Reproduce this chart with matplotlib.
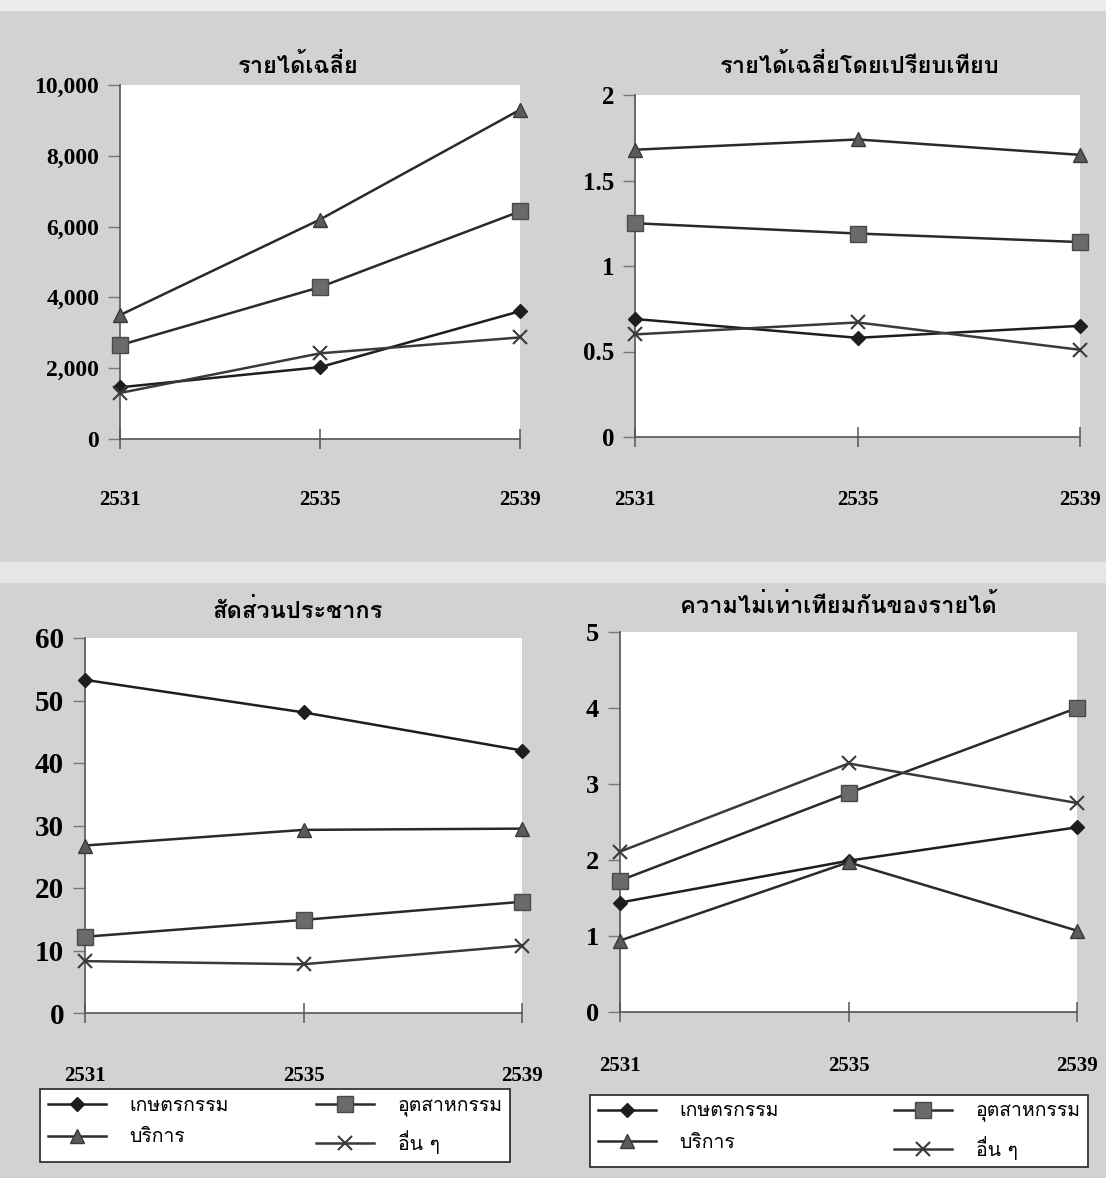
import matplotlib
matplotlib.use('Agg')
import matplotlib.pyplot as plt
from matplotlib import font_manager, ft2font
from matplotlib.lines import Line2D
from matplotlib.patches import Rectangle
import numpy as np

years = [2531, 2535, 2539]
series_names = ['เกษตรกรรม', 'อุตสาหกรรม', 'บริการ', 'อื่น ๆ']

# รายได้เฉลี่ย
income_agri = [1460, 2030, 3610]
income_ind = [2650, 4290, 6430]
income_serv = [3500, 6200, 9300]
income_other = [1300, 2420, 2870]

# รายได้เฉลี่ยโดยเปรียบเทียบ
rel_agri = [0.69, 0.58, 0.65]
rel_ind = [1.25, 1.19, 1.14]
rel_serv = [1.68, 1.74, 1.65]
rel_other = [0.60, 0.67, 0.51]

# สัดส่วนประชากร
pop_agri = [53.3, 48.1, 42.0]
pop_ind = [12.2, 14.9, 17.8]
pop_serv = [26.8, 29.3, 29.5]
pop_other = [8.3, 7.8, 10.8]

# ความไม่เท่าเทียมกันของรายได้
ineq_agri = [1.44, 1.99, 2.43]
ineq_ind = [1.73, 2.88, 4.00]
ineq_serv = [0.94, 1.97, 1.07]
ineq_other = [2.11, 3.27, 2.75]

titles = ['รายได้เฉลี่ย', 'รายได้เฉลี่ยโดยเปรียบเทียบ', 'สัดส่วนประชากร',
          'ความไม่เท่าเทียมกันของรายได้']


def find_thai_font():
    for f in font_manager.fontManager.ttflist:
        try:
            cmap = ft2font.FT2Font(f.fname).get_charmap()
        except Exception:
            continue
        if 0x0E01 in cmap and 0x0E44 in cmap:
            return f.name
    return 'DejaVu Sans'


thai = find_thai_font()
thai_family = [thai, 'DejaVu Sans']
num_font = 'Liberation Serif'

W, H = 1106, 1178
fig = plt.figure(figsize=(W / 100, H / 100), dpi=100)
fig.patch.set_facecolor('#d2d2d2')

# scan artefacts: light strips
fig.patches.append(Rectangle((0, 1 - 10 / H), 1, 10 / H, transform=fig.transFigure,
                             color='#ececec', zorder=0))
fig.patches.append(Rectangle((0, 1 - 582 / H), 1, 20 / H, transform=fig.transFigure,
                             color='#e6e6e6', zorder=0))

styles = {
    'เกษตรกรรม': dict(marker='D', color='#1e1e1e', ms=7.5, mfc='#1e1e1e', mec='#1e1e1e'),
    'อุตสาหกรรม': dict(marker='s', color='#2a2a2a', ms=11, mfc='#6a6a6a', mec='#4a4a4a'),
    'บริการ': dict(marker='^', color='#2a2a2a', ms=10, mfc='#5a5a5a', mec='#3a3a3a'),
    'อื่น ๆ': dict(marker='x', color='#3a3a3a', ms=10, mfc='none', mec='#3a3a3a', mew=1.5),
}


def px_axes(left, right, top, bottom):
    return fig.add_axes([left / W, 1 - bottom / H, (right - left) / W, (bottom - top) / H])


def draw_panel(box, data, ylim, yticks, ylabels, title, ysize, title_xy, label_pad):
    ax = px_axes(*box)
    ax.set_facecolor('white')
    for name, vals in zip(series_names, data):
        st = dict(styles[name])
        ax.plot(years, vals, lw=1.8, clip_on=False, zorder=3, **st)
    ax.set_xlim(years[0], years[-1])
    ax.set_ylim(*ylim)
    ax.spines['top'].set_visible(False)
    ax.spines['right'].set_visible(False)
    for s in ('left', 'bottom'):
        ax.spines[s].set_color('#555555')
        ax.spines[s].set_linewidth(1.2)
    ax.set_xticks(years)
    ax.set_xticklabels([str(y) for y in years], fontfamily=num_font,
                       fontweight='bold', fontsize=15)
    ax.set_yticks(yticks)
    ax.set_yticklabels(ylabels, fontfamily=num_font, fontweight='bold', fontsize=ysize)
    ax.tick_params(axis='x', direction='inout', length=14, width=1.1, color='#555555',
                   pad=label_pad)
    ax.tick_params(axis='y', direction='out', length=9, width=1.0, color='#777777', pad=6)
    fig.text(title_xy[0] / W, 1 - title_xy[1] / H, title, family=thai_family,
             fontweight='bold', fontsize=17, ha='center', va='center')
    return ax


draw_panel((120, 520, 85, 439),
           [income_agri, income_ind, income_serv, income_other],
           (0, 10000), [0, 2000, 4000, 6000, 8000, 10000],
           ['0', '2,000', '4,000', '6,000', '8,000', '10,000'],
           titles[0], 17, (298, 66), 30)

draw_panel((635, 1080, 95, 437),
           [rel_agri, rel_ind, rel_serv, rel_other],
           (0, 2), [0, 0.5, 1, 1.5, 2], ['0', '0.5', '1', '1.5', '2'],
           titles[1], 18, (860, 66), 31)

draw_panel((85, 522, 638, 1013),
           [pop_agri, pop_ind, pop_serv, pop_other],
           (0, 60), [0, 10, 20, 30, 40, 50, 60],
           ['0', '10', '20', '30', '40', '50', '60'],
           titles[2], 21, (298, 611), 31)

draw_panel((620, 1077, 632, 1012),
           [ineq_agri, ineq_ind, ineq_serv, ineq_other],
           (0, 5), [0, 1, 2, 3, 4, 5], ['0', '1', '2', '3', '4', '5'],
           titles[3], 19, (838, 606), 25)

# legends: filled column-wise -> order agri, serv, ind, other
order = ['เกษตรกรรม', 'บริการ', 'อุตสาหกรรม', 'อื่น ๆ']
handles = [Line2D([], [], lw=1.8, **styles[n]) for n in order]
for (x0, x1, y0, y1) in [(30, 520, 1083, 1168), (580, 1098, 1090, 1172)]:
    leg = fig.legend(handles, order, loc='center',
                     bbox_to_anchor=(x0 / W, 1 - y1 / H, (x1 - x0) / W, (y1 - y0) / H),
                     mode='expand', ncol=2, handlelength=3.0, handletextpad=1.2,
                     columnspacing=1.0, borderpad=0.4, labelspacing=0.7,
                     prop=dict(family=thai_family, size=14), frameon=True,
                     fancybox=False, edgecolor='#333333', facecolor='white',
                     framealpha=1)
    leg.get_frame().set_linewidth(1.3)

fig.savefig('out.png', dpi=100, facecolor=fig.get_facecolor())
